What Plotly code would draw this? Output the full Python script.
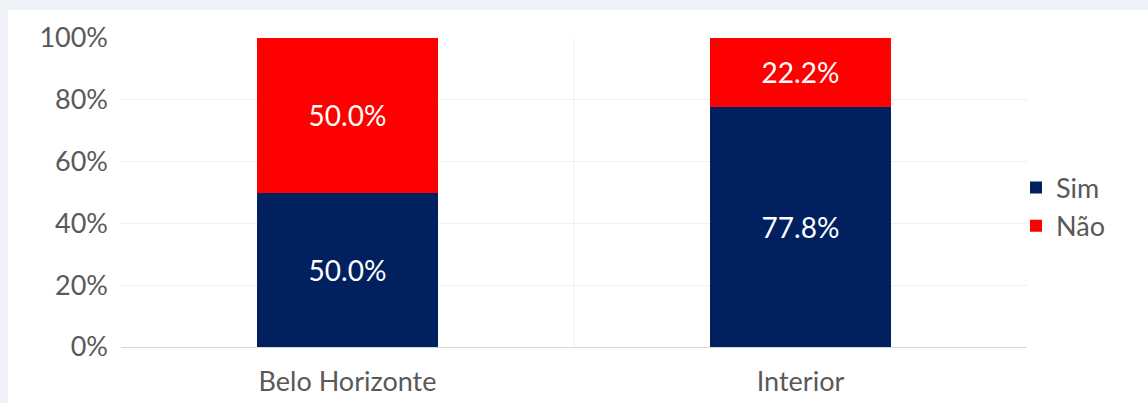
import plotly.graph_objects as go

# Share of answers per region (percent)
categories = ["Belo Horizonte", "Interior"]
sim_values = [50.0, 77.8]
nao_values = [50.0, 22.2]
tick_values = [0, 20, 40, 60, 80, 100]
tick_labels = ["0%", "20%", "40%", "60%", "80%", "100%"]

FONT = "Lato, 'Open Sans', sans-serif"
TEXT_GRAY = "#595959"

fig = go.Figure()
fig.add_trace(go.Bar(
    name="Sim", x=categories, y=sim_values,
    marker=dict(color="#002060", line=dict(width=0)),
    text=[f"{v:.1f}%" for v in sim_values], textposition="inside",
    insidetextanchor="middle",
    textfont=dict(color="white", size=28, family=FONT),
))
fig.add_trace(go.Bar(
    name="Não", x=categories, y=nao_values,
    marker=dict(color="#ff0000", line=dict(width=0)),
    text=[f"{v:.1f}%" for v in nao_values], textposition="inside",
    insidetextanchor="middle",
    textfont=dict(color="white", size=28, family=FONT),
))

W, H = 1148, 403
L, R, T, B = 121, 121, 38, 56
pw, ph = W - L - R, H - T - B

def px_x(p):
    return (p - L) / pw

def px_y(p):
    return (H - B - p) / ph

shapes = [
    # white chart panel over the grey page
    dict(type="rect", xref="paper", yref="paper", layer="below",
         x0=px_x(8), x1=px_x(W + 5), y0=px_y(H + 5), y1=px_y(10),
         fillcolor="white", line=dict(width=0)),
    # category separator
    dict(type="line", xref="x", yref="y", layer="below",
         x0=0.5, x1=0.5, y0=0, y1=100,
         line=dict(color="#f0f0f0", width=1)),
]

fig.update_layout(
    width=W, height=H,
    margin=dict(l=L, r=R, t=T, b=B, autoexpand=False),
    paper_bgcolor="#eff3f7",
    plot_bgcolor="rgba(0,0,0,0)",
    barmode="stack",
    bargap=0.6,
    shapes=shapes,
    font=dict(family=FONT, color=TEXT_GRAY, size=27),
    uniformtext=dict(mode="show", minsize=10),
    legend=dict(
        x=px_x(1016), y=px_y(207), xanchor="left", yanchor="middle",
        traceorder="normal", bgcolor="rgba(0,0,0,0)",
        font=dict(size=27, color=TEXT_GRAY, family=FONT),
        itemwidth=30, tracegroupgap=0,
    ),
    xaxis=dict(
        showgrid=False, showline=True, linecolor="#d9d9d9", linewidth=1,
        ticks="", tickfont=dict(size=27, color=TEXT_GRAY), ticklabelstandoff=11,
        automargin=False,
    ),
    yaxis=dict(
        range=[0, 100], tickvals=tick_values, ticktext=tick_labels,
        showgrid=True, gridcolor="#f0f0f0", gridwidth=1, zeroline=False,
        showline=False, ticks="", tickfont=dict(size=27, color=TEXT_GRAY),
        ticklabelstandoff=12, automargin=False,
    ),
)

fig.write_html("out.html")
